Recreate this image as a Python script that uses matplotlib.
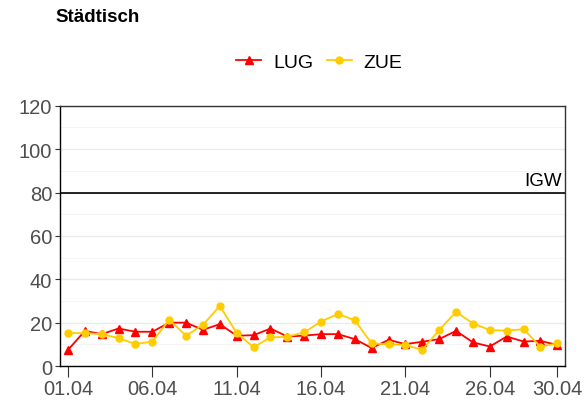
import matplotlib
matplotlib.use('Agg')
import matplotlib.pyplot as plt

plt.rcParams['font.family'] = ['Liberation Sans', 'DejaVu Sans']

# daily values, 01.04 - 30.04
days = list(range(1, 31))
lug = [7.4, 16.2, 14.7, 17.3, 15.8, 15.8, 20.0, 20.0, 16.7, 19.3,
       14.0, 14.2, 17.3, 13.6, 14.0, 14.7, 14.7, 12.4, 8.3, 12.1,
       10.1, 11.2, 12.4, 16.2, 10.9, 9.0, 13.6, 11.3, 11.6, 9.7]
zue = [15.2, 15.2, 14.7, 12.9, 10.1, 11.3, 21.3, 14.0, 19.0, 27.7,
       15.2, 8.7, 13.2, 13.5, 15.5, 20.5, 24.0, 21.1, 10.4, 10.0,
       9.7, 7.4, 16.6, 25.0, 19.6, 16.6, 16.3, 17.0, 8.9, 10.4]
tick_days = [1, 6, 11, 16, 21, 26, 30]
tick_labels = ['01.04', '06.04', '11.04', '16.04', '21.04', '26.04', '30.04']
igw = 80

fig = plt.figure(figsize=(5.86, 4.06), dpi=100)
ax = fig.add_axes([0.103, 0.096, 0.861, 0.641])

ax.plot(days, lug, color='#FF0000', marker='^', markersize=5.5, lw=1.3, label='LUG', zorder=3)
ax.plot(days, zue, color='#FFCC00', marker='o', markersize=5, lw=1.3, label='ZUE', zorder=3)

ax.axhline(igw, color='black', lw=1.2, zorder=2)
ax.text(30.3, igw + 1.5, 'IGW', ha='right', va='bottom', fontsize=13.5, color='black')

ax.set_xlim(0.55, 30.45)
ax.set_ylim(0, 120)
ax.set_xticks(tick_days)
ax.set_xticklabels(tick_labels)
ax.set_yticks(range(0, 121, 20))
ax.set_yticks(range(10, 120, 20), minor=True)
ax.grid(True, which='major', axis='y', color='#EBEBEB', lw=1.0)
ax.grid(True, which='minor', axis='y', color='#F3F3F3', lw=0.6)
ax.set_axisbelow(True)
ax.tick_params(axis='both', which='major', labelsize=14.5, labelcolor='#4D4D4D',
               color='#333333')
ax.tick_params(axis='x', which='major', length=8, pad=1)
ax.tick_params(axis='y', which='major', length=3.5, pad=2.5)
ax.tick_params(axis='y', which='minor', length=0)
for s in ax.spines.values():
    s.set_color('#333333')
    s.set_linewidth(1.0)
ax.spines['left'].set_color('black')
ax.spines['bottom'].set_color('black')

fig.text(0.094, 0.957, 'Städtisch', fontsize=13.5, fontweight='bold', va='center')
fig.legend(loc='center', bbox_to_anchor=(0.545, 0.845), ncol=2, frameon=False,
           fontsize=14, handlelength=1.3, columnspacing=0.7, handletextpad=0.6)

plt.savefig('out.png', dpi=100)
